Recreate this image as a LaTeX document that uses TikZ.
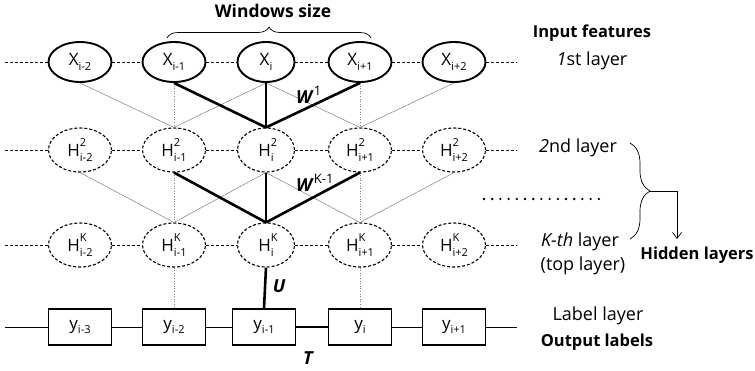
\documentclass[tikz,border=0pt]{standalone}
\usepackage{fontspec}
\setmainfont{Open Sans}
\usetikzlibrary{shapes.geometric,decorations.pathreplacing,arrows.meta}
\newcommand\hlab[3]{#1\rlap{\raisebox{0.62em}{\fontsize{11}{12}\selectfont #2}}\raisebox{-0.28em}{\fontsize{11}{12}\selectfont #3}}
\newcommand\xlab[2]{#1\raisebox{-0.28em}{\fontsize{11}{12}\selectfont #2}}
\begin{document}
\begin{tikzpicture}[x=1pt,y=-1pt,
  lbl/.style={font=\fontsize{17}{19}\selectfont},
  xnode/.style={ellipse,draw,line width=1.9pt,minimum width=63pt,minimum height=40pt,inner sep=0pt,lbl},
  hnode/.style={ellipse,draw,dash pattern=on 3pt off 2pt,line width=1.1pt,minimum width=63pt,minimum height=44pt,inner sep=0pt,lbl},
  ybox/.style={rectangle,draw,line width=1.5pt,minimum width=63pt,minimum height=36pt,inner sep=0pt,lbl},
  tline/.style={gray,line width=0.5pt},
  vline/.style={gray,dotted,line width=0.6pt},
  heavy/.style={line width=2.6pt},
  hdash/.style={dash pattern=on 3pt off 2pt,line width=0.6pt},
  txt/.style={font=\fontsize{18}{21}\selectfont},
  btxt/.style={font=\fontsize{16.5}{19}\selectfont\bfseries}
]
\useasboundingbox (0,0) rectangle (755,370);

% columns
\def\ca{80}\def\cb{174}\def\cc{266}\def\cd{360}\def\ce{454}

% input row
\node[xnode] (X1) at (\ca,62) {\xlab{X}{i-2}};
\node[xnode] (X2) at (\cb,62) {\xlab{X}{i-1}};
\node[xnode,minimum width=57pt] (X3) at (\cc,62) {\xlab{X}{i}};
\node[xnode] (X4) at (\cd,62) {\xlab{X}{i+1}};
\node[xnode] (X5) at (\ce,62) {\xlab{X}{i+2}};

% second layer
\node[hnode] (A1) at (\ca,150) {\hlab{H}{2}{i-2}};
\node[hnode] (A2) at (\cb,150) {\hlab{H}{2}{i-1}};
\node[hnode,minimum width=57pt] (A3) at (\cc,150) {\hlab{H}{2}{i}};
\node[hnode] (A4) at (\cd,150) {\hlab{H}{2}{i+1}};
\node[hnode] (A5) at (\ce,150) {\hlab{H}{2}{i+2}};

% K-th layer
\node[hnode] (K1) at (\ca,245) {\hlab{H}{K}{i-2}};
\node[hnode] (K2) at (\cb,245) {\hlab{H}{K}{i-1}};
\node[hnode,minimum width=57pt] (K3) at (\cc,245) {\hlab{H}{K}{i}};
\node[hnode] (K4) at (\cd,245) {\hlab{H}{K}{i+1}};
\node[hnode] (K5) at (\ce,245) {\hlab{H}{K}{i+2}};

% label boxes
\node[ybox] (B1) at (\ca,327) {\xlab{y}{i-3}};
\node[ybox] (B2) at (\cb,327) {\xlab{y}{i-2}};
\node[ybox] (B3) at (264,327) {\xlab{y}{i-1}};
\node[ybox] (B4) at (\cd,327) {\xlab{y}{i}};
\node[ybox] (B5) at (\ce,327) {\xlab{y}{i+1}};

% free ends
\coordinate (XL) at (5,62);  \coordinate (XR) at (517,62);
\coordinate (AL) at (5,150); \coordinate (AR) at (517,150);
\coordinate (KL) at (5,245); \coordinate (KR) at (517,245);
\coordinate (BL) at (5,327); \coordinate (BR) at (517,327);

% horizontal dashed chains
\draw[hdash] (XL) -- (X1) -- (X2) -- (X3) -- (X4) -- (X5) -- (XR);
\draw[hdash] (AL) -- (A1) -- (A2) -- (A3) -- (A4) -- (A5) -- (AR);
\draw[hdash] (KL) -- (K1) -- (K2) -- (K3) -- (K4) -- (K5) -- (KR);
\draw[line width=0.8pt] (BL) -- (B1) -- (B2) -- (B3);
\draw[line width=0.8pt] (B4) -- (B5) -- (BR);
\draw[heavy] (B3) -- (B4);

% X -> H2
\draw[tline] (X1.south) -- (A2.north);
\draw[tline] (X3.south) -- (A2.north);
\draw[tline] (X3.south) -- (A4.north);
\draw[tline] (X5.south) -- (A4.north);
\draw[vline] (X2.south) -- (A2.north);
\draw[vline] (X4.south) -- (A4.north);
\draw[heavy] (X2.south) -- (A3.north);
\draw[heavy] (X3.south) -- (A3.north);
\draw[heavy] (X4.south) -- (A3.north);

% H2 -> HK
\draw[tline] (A1.south) -- (K2.north);
\draw[tline] (A3.south) -- (K2.north);
\draw[tline] (A3.south) -- (K4.north);
\draw[tline] (A5.south) -- (K4.north);
\draw[vline] (A2.south) -- (K2.north);
\draw[vline] (A4.south) -- (K4.north);
\draw[heavy] (A2.south) -- (K3.north);
\draw[heavy] (A3.south) -- (K3.north);
\draw[heavy] (A4.south) -- (K3.north);

% HK -> labels
\draw[vline] (K2.south) -- (B2.north);
\draw[vline] (K4.south) -- (B4.north);
\draw[heavy] (K3.south) -- (B3.north);

% weight labels
\node[anchor=west,inner sep=0pt,font=\fontsize{18}{20}\selectfont] (W1) at (296,95) {\textbf{\textit{W}}\raisebox{0.45em}{\fontsize{13}{14}\selectfont 1}};
\node[anchor=west,inner sep=0pt,font=\fontsize{18}{20}\selectfont] (WK) at (296,183) {\textbf{\textit{W}}\raisebox{0.45em}{\fontsize{13}{14}\selectfont K-1}};
\node[inner sep=0pt,font=\fontsize{18}{20}\selectfont\bfseries\itshape] (U) at (279,286) {U};
\node[inner sep=0pt,font=\fontsize{18}{20}\selectfont\bfseries\itshape] (T) at (308,358) {T};

% windows size
\node[btxt,font=\fontsize{17.5}{20}\selectfont\bfseries] (WS) at (273,11) {Windows size};
\coordinate (WSa) at (167,38);
\coordinate (WSb) at (371,38);
\draw[line width=0.7pt,decorate,decoration={brace,amplitude=11pt}] (WSa) -- (WSb);

% right texts
\node[btxt] (IF) at (592,33) {Input features};
\node[txt] (L1) at (592,61) {\textit{1}st layer};
\node[txt] (L2) at (578,148) {\textit{2}nd layer};
\node[txt] (LK) at (580,242) {\textit{K-th} layer};
\node[txt] (LT) at (583,266) {(top layer)};
\node[txt] (LL) at (598,316) {Label layer};
\node[btxt] (OL) at (597,342) {Output labels};
\node[btxt] (HL) at (697,255) {Hidden layers};

% dots
\coordinate (D1) at (484,199);
\coordinate (D2) at (600,199);
\draw[line width=2.6pt,line cap=round,dash pattern=on 0pt off 8.2pt] (D1) -- (D2);

% hidden layers brace
\coordinate (HBa) at (630,143);
\coordinate (HBb) at (630,239);
\coordinate (HBtip) at (650,191);
\coordinate (HBc) at (677,191);
\coordinate (HBd) at (677,239);
\draw[line width=0.7pt,decorate,decoration={brace,amplitude=20pt,aspect=0.5}] (HBa) -- (HBb);
\draw[line width=0.7pt,-{Straight Barb[length=6pt,width=9pt]}] (HBtip) -- (HBc) -- (HBd);
\end{tikzpicture}
\end{document}
